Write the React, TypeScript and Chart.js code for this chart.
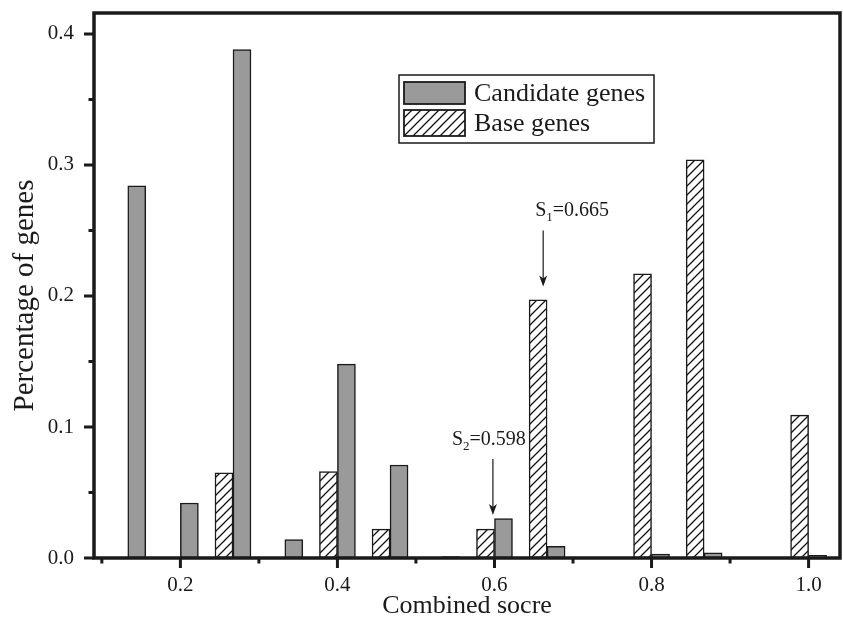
import React, { useEffect, useRef } from 'react';
import { Chart, registerables } from 'chart.js';

Chart.register(...registerables);

// ---- data ----
const binCenters = [0.133, 0.2, 0.267, 0.333, 0.4, 0.467, 0.533, 0.6, 0.667, 0.733, 0.8, 0.867, 0.933, 1.0];
const candidateGenes = [0.284, 0.042, 0.388, 0.014, 0.148, 0.071, 0.001, 0.030, 0.009, null, 0.003, 0.004, null, 0.002];
const baseGenes = [null, null, 0.065, null, 0.066, 0.022, null, 0.022, 0.197, null, 0.217, 0.304, null, 0.109];
const seriesLabels = ['Candidate genes', 'Base genes'];
const xTickValues = [0.2, 0.4, 0.6, 0.8, 1.0];
const xMinorTickValues = [0.1, 0.3, 0.5, 0.7, 0.9];
const yTickValues = [0.0, 0.1, 0.2, 0.3, 0.4];
const yMinorTickValues = [0.05, 0.15, 0.25, 0.35];
const thresholdNames = ['S', 'S'];
const thresholdSubs = ['1', '2'];
const thresholdTexts = ['=0.665', '=0.598'];
const thresholdX = [0.662, 0.598];
const xTitle = 'Combined socre';
const yTitle = 'Percentage of genes';

const FONT = '"Liberation Serif", "Times New Roman", Times, serif';
const INK = '#1a1a1a';
const GRAY = '#9a9a9a';

function makeHatch(): CanvasPattern | string {
  const c = document.createElement('canvas');
  const s = 9;
  c.width = s;
  c.height = s;
  const g = c.getContext('2d');
  if (!g) return '#fff';
  g.fillStyle = '#ffffff';
  g.fillRect(0, 0, s, s);
  g.strokeStyle = '#111';
  g.lineWidth = 1.3;
  g.beginPath();
  g.moveTo(-1, s + 1);
  g.lineTo(s + 1, -1);
  g.moveTo(-s / 2 - 1, s / 2 + 1);
  g.lineTo(s / 2 + 1, -s / 2 - 1);
  g.moveTo(s / 2 - 1, s * 1.5 + 1);
  g.lineTo(s * 1.5 + 1, s / 2 - 1);
  g.stroke();
  const p = g.createPattern(c, 'repeat');
  return p || '#fff';
}

function drawSubLabel(ctx: CanvasRenderingContext2D, left: number, cy: number, main: string, sub: string, rest: string) {
  ctx.save();
  ctx.fillStyle = INK;
  ctx.textBaseline = 'middle';
  ctx.textAlign = 'left';
  ctx.font = `20px ${FONT}`;
  ctx.fillText(main, left, cy);
  let x = left + ctx.measureText(main).width;
  ctx.font = `13px ${FONT}`;
  ctx.fillText(sub, x, cy + 6);
  x += ctx.measureText(sub).width;
  ctx.font = `20px ${FONT}`;
  ctx.fillText(rest, x, cy);
  ctx.restore();
}

function drawArrow(ctx: CanvasRenderingContext2D, x: number, y1: number, y2: number) {
  ctx.save();
  ctx.strokeStyle = INK;
  ctx.fillStyle = INK;
  ctx.lineWidth = 1.2;
  ctx.beginPath();
  ctx.moveTo(x, y1);
  ctx.lineTo(x, y2 - 6);
  ctx.stroke();
  ctx.beginPath();
  ctx.moveTo(x, y2);
  ctx.lineTo(x - 4, y2 - 11);
  ctx.lineTo(x, y2 - 8);
  ctx.lineTo(x + 4, y2 - 11);
  ctx.closePath();
  ctx.fill();
  ctx.restore();
}

export default function App() {
  const ref = useRef<HTMLCanvasElement | null>(null);

  useEffect(() => {
    const canvas = ref.current;
    if (!canvas) return;
    const hatch = makeHatch();

    const framePlugin = {
      id: 'frameAndNotes',
      afterDraw(chart: any) {
        const { ctx, chartArea: a } = chart;
        const xs = chart.scales.x;
        const ys = chart.scales.y;
        ctx.save();
        // frame
        ctx.strokeStyle = INK;
        ctx.lineWidth = 3.5;
        ctx.strokeRect(a.left, a.top, a.right - a.left, a.bottom - a.top);
        // ticks
        ctx.lineWidth = 3;
        ctx.beginPath();
        for (const v of xTickValues) {
          const px = xs.getPixelForValue(v);
          ctx.moveTo(px, a.bottom);
          ctx.lineTo(px, a.bottom + 10);
        }
        for (const v of xMinorTickValues) {
          const px = xs.getPixelForValue(v);
          ctx.moveTo(px, a.bottom);
          ctx.lineTo(px, a.bottom + 5.5);
        }
        for (const v of yTickValues) {
          const py = ys.getPixelForValue(v);
          ctx.moveTo(a.left, py);
          ctx.lineTo(a.left - 10, py);
        }
        for (const v of yMinorTickValues) {
          const py = ys.getPixelForValue(v);
          ctx.moveTo(a.left, py);
          ctx.lineTo(a.left - 5.5, py);
        }
        ctx.stroke();

        // y axis title
        ctx.save();
        ctx.translate(25, (a.top + a.bottom) / 2 + 10);
        ctx.rotate(-Math.PI / 2);
        ctx.fillStyle = INK;
        ctx.font = `29px ${FONT}`;
        ctx.textAlign = 'center';
        ctx.textBaseline = 'middle';
        ctx.fillText(yTitle, 0, 0);
        ctx.restore();

        // legend
        const lx = a.left + 305;
        const ly = a.top + 62;
        const lw = 255;
        const lh = 68;
        ctx.fillStyle = '#fff';
        ctx.fillRect(lx, ly, lw, lh);
        ctx.lineWidth = 1.5;
        ctx.strokeStyle = INK;
        ctx.strokeRect(lx, ly, lw, lh);
        const sw = 61;
        const sh = 22;
        const rows = [
          { bg: GRAY, y: ly + 7 },
          { bg: hatch, y: ly + 35 },
        ];
        rows.forEach((r, i) => {
          ctx.fillStyle = r.bg as any;
          ctx.fillRect(lx + 5, r.y, sw, sh + (i === 1 ? 4 : 0));
          ctx.lineWidth = 1.8;
          ctx.strokeStyle = INK;
          ctx.strokeRect(lx + 5, r.y, sw, sh + (i === 1 ? 4 : 0));
          ctx.fillStyle = INK;
          ctx.font = `26px ${FONT}`;
          ctx.textBaseline = 'middle';
          ctx.textAlign = 'left';
          ctx.fillText(seriesLabels[i], lx + 75, r.y + 12 + (i === 1 ? 2 : 0));
        });

        // threshold annotations
        const textLeftOffsets = [-8, -41];
        const textCenterVals = [0.2647, 0.0899];
        const arrowTopVals = [0.25, 0.0755];
        const arrowBottomVals = [0.2073, 0.0328];
        thresholdX.forEach((v, i) => {
          const px = xs.getPixelForValue(v);
          drawSubLabel(ctx, px + textLeftOffsets[i], ys.getPixelForValue(textCenterVals[i]), thresholdNames[i], thresholdSubs[i], thresholdTexts[i]);
          drawArrow(ctx, px, ys.getPixelForValue(arrowTopVals[i]), ys.getPixelForValue(arrowBottomVals[i]));
        });
        ctx.restore();
      },
    };

    const toPoints = (vals: (number | null)[]) =>
      binCenters.map((x, i) => ({ x, y: vals[i] })).filter((d) => d.y !== null);

    const zeroPad = (s: any) => {
      s.paddingTop = 0;
      s.paddingBottom = 0;
      s.paddingLeft = 0;
      s.paddingRight = 0;
    };

    const chart = new Chart(canvas, {
      type: 'bar',
      data: {
        datasets: [
          {
            label: seriesLabels[1],
            data: toPoints(baseGenes) as any,
            backgroundColor: hatch as any,
            borderColor: INK,
            borderWidth: 1.5,
            borderSkipped: false,
            barThickness: 18,
          },
          {
            label: seriesLabels[0],
            data: toPoints(candidateGenes) as any,
            backgroundColor: GRAY,
            borderColor: INK,
            borderWidth: 1.5,
            borderSkipped: false,
            barThickness: 18,
          },
        ],
      },
      options: {
        animation: false,
        responsive: false,
        events: [],
        layout: { padding: { left: 0, right: 3, top: 13, bottom: 0 } },
        plugins: { legend: { display: false }, tooltip: { enabled: false } },
        scales: {
          x: {
            type: 'linear',
            min: 0.09,
            max: 1.04,
            offset: false,
            grid: { display: false },
            border: { display: false },
            afterBuildTicks: (s: any) => {
              s.ticks = xTickValues.map((v) => ({ value: v }));
            },
            afterFit: (s: any) => {
              s.height = 68;
              zeroPad(s);
            },
            ticks: {
              autoSkip: false,
              maxRotation: 0,
              padding: 7,
              color: INK,
              font: { family: FONT, size: 21 },
              callback: (v: any) => Number(v).toFixed(1),
            },
            title: {
              display: true,
              text: xTitle,
              color: INK,
              font: { family: FONT, size: 26 },
              padding: { top: 0, bottom: 4 },
            },
          },
          y: {
            type: 'linear',
            min: 0,
            max: 0.416,
            grid: { display: false },
            border: { display: false },
            afterBuildTicks: (s: any) => {
              s.ticks = yTickValues.map((v) => ({ value: v }));
            },
            afterFit: (s: any) => {
              s.width = 94;
              zeroPad(s);
            },
            ticks: {
              autoSkip: false,
              padding: 12,
              color: INK,
              font: { family: FONT, size: 21 },
              callback: (v: any) => Number(v).toFixed(1),
            },
            title: { display: false },
          },
        },
      } as any,
      plugins: [framePlugin as any],
    });

    return () => chart.destroy();
  }, []);

  return (
    <div style={{ position: 'absolute', left: 0, top: 0, width: 843, height: 626, background: '#fff' }}>
      <canvas ref={ref} width={843} height={626} style={{ display: 'block' }} />
    </div>
  );
}
